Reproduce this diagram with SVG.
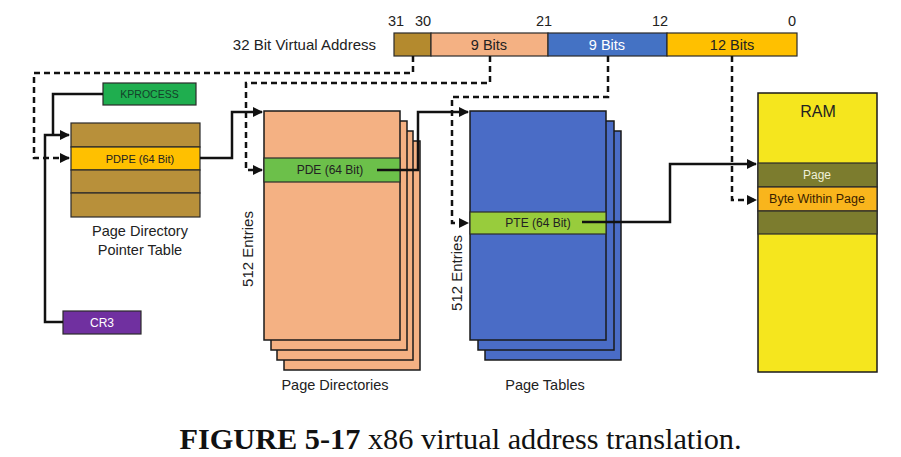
<svg xmlns="http://www.w3.org/2000/svg" width="901" height="457" viewBox="0 0 901 457">
<defs>
<marker id="ah" viewBox="0 0 10 10" refX="9" refY="5" markerWidth="4" markerHeight="4" orient="auto" markerUnits="strokeWidth">
<path d="M0,0 L10,5 L0,10 z" fill="#111"/>
</marker>
<style>
.t{font-family:"Liberation Sans",Arial,sans-serif;font-size:12px;fill:#222;text-anchor:middle}
.lbl{font-family:"Liberation Sans",Arial,sans-serif;font-size:14.5px;fill:#222;text-anchor:middle}
.box{stroke:#2a2a2a;stroke-width:1.2}
.sheet{stroke:#1a1a1a;stroke-width:1.5}
.ln{fill:none;stroke:#111;stroke-width:2.5}
.dash{fill:none;stroke:#111;stroke-width:2.5;stroke-dasharray:6 4}
.cap{font-family:"Liberation Serif","Times New Roman",serif;font-size:30.3px;fill:#111}
</style>
</defs>
<rect width="901" height="457" fill="#fff"/>

<g id="address">
<text class="lbl" x="376" y="50" style="text-anchor:end;font-size:15px">32 Bit Virtual Address</text>
<text class="lbl" x="396" y="26">31</text>
<text class="lbl" x="423" y="26">30</text>
<text class="lbl" x="544" y="26">21</text>
<text class="lbl" x="660" y="26">12</text>
<text class="lbl" x="792" y="26">0</text>
<rect class="box" x="394" y="33" width="37" height="23" fill="#b48a2e"/>
<rect class="box" x="431" y="33" width="117" height="23" fill="#f4b183"/>
<rect class="box" x="548" y="33" width="119" height="23" fill="#4472c4"/>
<rect class="box" x="667" y="33" width="130" height="23" fill="#ffc000"/>
<text class="lbl" x="489" y="50">9 Bits</text>
<text class="lbl" x="607" y="50" style="fill:#fff">9 Bits</text>
<text class="lbl" x="732" y="50">12 Bits</text>
</g>

<g id="kprocess">
<rect class="box" x="103" y="83" width="93" height="22" fill="#1fae4f"/>
<text class="t" x="149.5" y="98" style="fill:#14402a;font-size:10.5px">KPROCESS</text>
</g>

<g id="pdpt">
<rect class="box" x="71" y="123" width="129" height="24" fill="#b8903a"/>
<rect class="box" x="71" y="147" width="129" height="23" fill="#ffc000"/>
<rect class="box" x="71" y="170" width="129" height="23" fill="#b8903a"/>
<rect class="box" x="71" y="193" width="129" height="24" fill="#b8903a"/>
<text class="t" x="140" y="163" style="font-size:11px">PDPE (64 Bit)</text>
<text class="lbl" x="140" y="236">Page Directory</text>
<text class="lbl" x="140" y="255">Pointer Table</text>
</g>

<g id="cr3">
<rect class="box" x="63" y="311" width="78" height="23" fill="#7030a0"/>
<text class="t" x="102" y="327" style="fill:#fff">CR3</text>
</g>

<g id="page-directories">
<rect class="sheet" x="284" y="141" width="136" height="229" fill="#f4b183"/>
<rect class="sheet" x="277" y="131" width="136" height="229" fill="#f4b183"/>
<rect class="sheet" x="271" y="121" width="136" height="229" fill="#f4b183"/>
<rect class="sheet" x="264" y="111" width="136" height="229" fill="#f4b183"/>
<rect class="box" x="264" y="158" width="136" height="24" fill="#6cc04a"/>
<text class="t" x="330" y="174">PDE (64 Bit)</text>
<text class="lbl" transform="translate(253,249) rotate(-90)" style="font-size:15px">512 Entries</text>
<text class="lbl" x="335" y="390">Page Directories</text>
</g>

<g id="page-tables">
<rect class="sheet" x="485" y="131" width="136" height="229" fill="#4a6cc6"/>
<rect class="sheet" x="478" y="121" width="136" height="229" fill="#4a6cc6"/>
<rect class="sheet" x="470" y="111" width="136" height="229" fill="#4a6cc6"/>
<rect class="box" x="470" y="212" width="136" height="22" fill="#98cc3c"/>
<text class="t" x="538" y="227">PTE (64 Bit)</text>
<text class="lbl" transform="translate(462,273) rotate(-90)" style="font-size:15px">512 Entries</text>
<text class="lbl" x="545" y="390">Page Tables</text>
</g>

<g id="ram">
<rect class="sheet" x="758" y="93" width="119" height="279" fill="#f5e61e"/>
<text class="lbl" x="818" y="117" style="font-size:16px">RAM</text>
<rect class="box" x="758" y="163" width="119" height="24" fill="#7c7c2e"/>
<text class="t" x="817" y="179" style="fill:#f0f0d8">Page</text>
<rect class="box" x="758" y="187" width="119" height="24" fill="#f9b51c"/>
<text class="t" x="817" y="203" style="fill:#3a2200;font-size:12.5px">Byte Within Page</text>
<rect class="box" x="758" y="211" width="119" height="23" fill="#7c7c2e"/>
</g>

<g id="connectors">
<path class="dash" d="M413,56 V73 H34 V158 H69" marker-end="url(#ah)"/>
<path class="dash" d="M490,56 V83 H246 V170 H262" marker-end="url(#ah)"/>
<path class="dash" d="M608,56 V97 H452 V223 H468" marker-end="url(#ah)"/>
<path class="dash" d="M732,56 V200 H756" marker-end="url(#ah)"/>
<path class="ln" d="M103,94 H53 V135"/>
<path class="ln" d="M63,322 H45 V135 H69" marker-end="url(#ah)"/>
<path class="ln" d="M200,158 H232 V112 H262" marker-end="url(#ah)"/>
<path class="ln" d="M377,170 H418 V112 H468" marker-end="url(#ah)"/>
<path class="ln" d="M582,222 H670 V164 H756" marker-end="url(#ah)"/>
</g>

<g id="caption">
<text class="cap" x="460.5" y="449" text-anchor="middle"><tspan font-weight="bold">FIGURE 5-17</tspan> x86 virtual address translation.</text>
</g>
</svg>
